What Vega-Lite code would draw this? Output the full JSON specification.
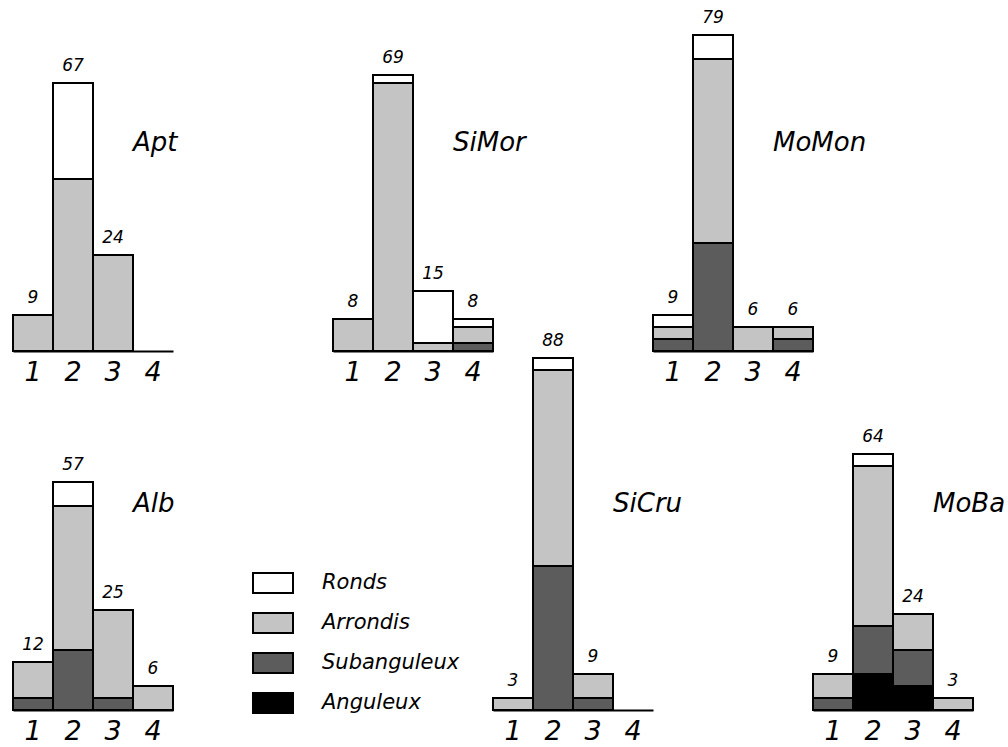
{
  "$schema": "https://vega.github.io/schema/vega-lite/v6.json",
  "background": "white",
  "padding": {"left": 12, "top": 0, "right": 0, "bottom": 0},
  "autosize": {"type": "pad"},
  "config": {
    "view": {"stroke": null},
    "axisX": {"title": null, "labelAngle": 0, "ticks": false, "grid": false, "domainColor": "black", "domainWidth": 2, "labelFont": "DejaVu Sans", "labelFontStyle": "italic", "labelFontSize": 27, "labelColor": "black", "labelPadding": 8},
    "text": {"font": "DejaVu Sans", "fontStyle": "italic", "color": "black"}
  },
  "datasets": {
    "d": [
      {"site": "Apt", "cat": "1", "cls": "Arrondis", "n": 9},
      {"site": "Apt", "cat": "2", "cls": "Arrondis", "n": 43},
      {"site": "Apt", "cat": "2", "cls": "Ronds", "n": 24},
      {"site": "Apt", "cat": "3", "cls": "Arrondis", "n": 24},
      {"site": "SiMor", "cat": "1", "cls": "Arrondis", "n": 8},
      {"site": "SiMor", "cat": "2", "cls": "Arrondis", "n": 67},
      {"site": "SiMor", "cat": "2", "cls": "Ronds", "n": 2},
      {"site": "SiMor", "cat": "3", "cls": "Arrondis", "n": 2},
      {"site": "SiMor", "cat": "3", "cls": "Ronds", "n": 13},
      {"site": "SiMor", "cat": "4", "cls": "Subanguleux", "n": 2},
      {"site": "SiMor", "cat": "4", "cls": "Arrondis", "n": 4},
      {"site": "SiMor", "cat": "4", "cls": "Ronds", "n": 2},
      {"site": "MoMon", "cat": "1", "cls": "Subanguleux", "n": 3},
      {"site": "MoMon", "cat": "1", "cls": "Arrondis", "n": 3},
      {"site": "MoMon", "cat": "1", "cls": "Ronds", "n": 3},
      {"site": "MoMon", "cat": "2", "cls": "Subanguleux", "n": 27},
      {"site": "MoMon", "cat": "2", "cls": "Arrondis", "n": 46},
      {"site": "MoMon", "cat": "2", "cls": "Ronds", "n": 6},
      {"site": "MoMon", "cat": "3", "cls": "Arrondis", "n": 6},
      {"site": "MoMon", "cat": "4", "cls": "Subanguleux", "n": 3},
      {"site": "MoMon", "cat": "4", "cls": "Arrondis", "n": 3},
      {"site": "Alb", "cat": "1", "cls": "Subanguleux", "n": 3},
      {"site": "Alb", "cat": "1", "cls": "Arrondis", "n": 9},
      {"site": "Alb", "cat": "2", "cls": "Subanguleux", "n": 15},
      {"site": "Alb", "cat": "2", "cls": "Arrondis", "n": 36},
      {"site": "Alb", "cat": "2", "cls": "Ronds", "n": 6},
      {"site": "Alb", "cat": "3", "cls": "Subanguleux", "n": 3},
      {"site": "Alb", "cat": "3", "cls": "Arrondis", "n": 22},
      {"site": "Alb", "cat": "4", "cls": "Arrondis", "n": 6},
      {"site": "SiCru", "cat": "1", "cls": "Arrondis", "n": 3},
      {"site": "SiCru", "cat": "2", "cls": "Subanguleux", "n": 36},
      {"site": "SiCru", "cat": "2", "cls": "Arrondis", "n": 49},
      {"site": "SiCru", "cat": "2", "cls": "Ronds", "n": 3},
      {"site": "SiCru", "cat": "3", "cls": "Subanguleux", "n": 3},
      {"site": "SiCru", "cat": "3", "cls": "Arrondis", "n": 6},
      {"site": "MoBa", "cat": "1", "cls": "Subanguleux", "n": 3},
      {"site": "MoBa", "cat": "1", "cls": "Arrondis", "n": 6},
      {"site": "MoBa", "cat": "2", "cls": "Anguleux", "n": 9},
      {"site": "MoBa", "cat": "2", "cls": "Subanguleux", "n": 12},
      {"site": "MoBa", "cat": "2", "cls": "Arrondis", "n": 40},
      {"site": "MoBa", "cat": "2", "cls": "Ronds", "n": 3},
      {"site": "MoBa", "cat": "3", "cls": "Anguleux", "n": 6},
      {"site": "MoBa", "cat": "3", "cls": "Subanguleux", "n": 9},
      {"site": "MoBa", "cat": "3", "cls": "Arrondis", "n": 9},
      {"site": "MoBa", "cat": "4", "cls": "Arrondis", "n": 3}
    ]
  },
  "bounds": "flush",
  "spacing": 0,
  "resolve": {"scale": {"color": "shared"}},
  "hconcat": [
    {
      "width": 160, "height": 710,
      "data": {"name": "d"},
      "resolve": {"scale": {"x": "independent", "y": "independent"}, "axis": {"x": "independent"}},
      "layer": [
        {
          "transform": [{"filter": "datum.site === 'Apt'"}],
          "layer": [
            {"transform": [{"calculate": "indexof(['Anguleux','Subanguleux','Arrondis','Ronds'], datum.cls)", "as": "o"}],
             "mark": {"type": "bar", "stroke": "black", "strokeWidth": 2},
             "encoding": {
               "x": {"field": "cat", "type": "ordinal", "scale": {"domain": ["1","2","3","4"], "paddingInner": 0, "paddingOuter": 0}, "axis": {"orient": "bottom", "offset": -359}},
               "y": {"field": "n", "type": "quantitative", "stack": "zero", "scale": {"domain": [-89.75, 87.75], "nice": false, "zero": false}, "axis": null},
               "color": {"field": "cls", "type": "nominal", "scale": {"domain": ["Ronds","Arrondis","Subanguleux","Anguleux"], "range": ["#ffffff","#c4c4c4","#5c5c5c","#000000"]},
                 "legend": {"title": null, "orient": "none", "legendX": 239, "legendY": 562, "direction": "vertical", "padding": 0, "rowPadding": 5, "symbolType": "M-1,-0.5H1V0.5H-1Z", "symbolSize": 1600, "symbolStrokeColor": "black", "symbolStrokeWidth": 2, "symbolOpacity": 1, "labelFont": "DejaVu Sans", "labelFontStyle": "italic", "labelFontSize": 21, "labelColor": "black", "labelOffset": 28}},
               "order": {"field": "o", "type": "quantitative"}
             }},
            {"mark": {"type": "text", "fontSize": 17, "baseline": "alphabetic", "dy": -12},
             "encoding": {
               "x": {"field": "cat", "type": "ordinal"},
               "y": {"aggregate": "sum", "field": "n", "type": "quantitative"},
               "text": {"aggregate": "sum", "field": "n", "type": "quantitative"}
             }},
            {"transform": [{"aggregate": [{"op": "count", "as": "c"}], "groupby": ["site"]}],
             "mark": {"type": "text", "fontSize": 26, "align": "left", "baseline": "alphabetic"},
             "encoding": {
               "x": {"datum": "4", "type": "ordinal", "bandPosition": 0},
               "y": {"datum": 50, "type": "quantitative"},
               "text": {"field": "site", "type": "nominal"}
             }}
          ]
        },
        {
          "transform": [{"filter": "datum.site === 'Alb'"}],
          "layer": [
            {"transform": [{"calculate": "indexof(['Anguleux','Subanguleux','Arrondis','Ronds'], datum.cls)", "as": "o"}],
             "mark": {"type": "bar", "stroke": "black", "strokeWidth": 2},
             "encoding": {
               "x": {"field": "cat", "type": "ordinal", "scale": {"domain": ["1","2","3","4"], "paddingInner": 0, "paddingOuter": 0}, "axis": {"orient": "bottom"}},
               "y": {"field": "n", "type": "quantitative", "stack": "zero", "scale": {"domain": [0, 177.5], "nice": false}, "axis": null},
               "color": {"field": "cls", "type": "nominal"},
               "order": {"field": "o", "type": "quantitative"}
             }},
            {"mark": {"type": "text", "fontSize": 17, "baseline": "alphabetic", "dy": -12},
             "encoding": {
               "x": {"field": "cat", "type": "ordinal"},
               "y": {"aggregate": "sum", "field": "n", "type": "quantitative"},
               "text": {"aggregate": "sum", "field": "n", "type": "quantitative"}
             }},
            {"transform": [{"aggregate": [{"op": "count", "as": "c"}], "groupby": ["site"]}],
             "mark": {"type": "text", "fontSize": 26, "align": "left", "baseline": "alphabetic"},
             "encoding": {
               "x": {"datum": "4", "type": "ordinal", "bandPosition": 0},
               "y": {"datum": 49.5, "type": "quantitative"},
               "text": {"field": "site", "type": "nominal"}
             }}
          ]
        }
      ]
    },
    {
      "width": 160, "height": 710,
      "data": {"values": []},
      "mark": "point",
      "encoding": {}
    },
    {
      "width": 160, "height": 710,
      "data": {"name": "d"},
      "transform": [{"filter": "datum.site === 'SiMor'"}],
      "layer": [
        {"transform": [{"calculate": "indexof(['Anguleux','Subanguleux','Arrondis','Ronds'], datum.cls)", "as": "o"}],
         "mark": {"type": "bar", "stroke": "black", "strokeWidth": 2},
         "encoding": {
           "x": {"field": "cat", "type": "ordinal", "scale": {"domain": ["1","2","3","4"], "paddingInner": 0, "paddingOuter": 0}, "axis": {"offset": -359}},
           "y": {"field": "n", "type": "quantitative", "stack": "zero", "scale": {"domain": [-89.75, 87.75], "nice": false, "zero": false}, "axis": null},
           "color": {"field": "cls", "type": "nominal"},
           "order": {"field": "o", "type": "quantitative"}
         }},
        {"mark": {"type": "text", "fontSize": 17, "baseline": "alphabetic", "dy": -12},
         "encoding": {
           "x": {"field": "cat", "type": "ordinal"},
           "y": {"aggregate": "sum", "field": "n", "type": "quantitative"},
           "text": {"aggregate": "sum", "field": "n", "type": "quantitative"}
         }},
        {"transform": [{"aggregate": [{"op": "count", "as": "c"}], "groupby": ["site"]}],
         "mark": {"type": "text", "fontSize": 26, "align": "left", "baseline": "alphabetic"},
         "encoding": {
           "x": {"datum": "4", "type": "ordinal", "bandPosition": 0},
           "y": {"datum": 50, "type": "quantitative"},
           "text": {"field": "site", "type": "nominal"}
         }}
      ]
    },
    {
      "width": 160, "height": 710,
      "data": {"name": "d"},
      "transform": [{"filter": "datum.site === 'SiCru'"}],
      "layer": [
        {"transform": [{"calculate": "indexof(['Anguleux','Subanguleux','Arrondis','Ronds'], datum.cls)", "as": "o"}],
         "mark": {"type": "bar", "stroke": "black", "strokeWidth": 2},
         "encoding": {
           "x": {"field": "cat", "type": "ordinal", "scale": {"domain": ["1","2","3","4"], "paddingInner": 0, "paddingOuter": 0}},
           "y": {"field": "n", "type": "quantitative", "stack": "zero", "scale": {"domain": [0, 177.5], "nice": false}, "axis": null},
           "color": {"field": "cls", "type": "nominal"},
           "order": {"field": "o", "type": "quantitative"}
         }},
        {"mark": {"type": "text", "fontSize": 17, "baseline": "alphabetic", "dy": -12},
         "encoding": {
           "x": {"field": "cat", "type": "ordinal"},
           "y": {"aggregate": "sum", "field": "n", "type": "quantitative"},
           "text": {"aggregate": "sum", "field": "n", "type": "quantitative"}
         }},
        {"transform": [{"aggregate": [{"op": "count", "as": "c"}], "groupby": ["site"]}],
         "mark": {"type": "text", "fontSize": 26, "align": "left", "baseline": "alphabetic"},
         "encoding": {
           "x": {"datum": "4", "type": "ordinal", "bandPosition": 0},
           "y": {"datum": 49.5, "type": "quantitative"},
           "text": {"field": "site", "type": "nominal"}
         }}
      ]
    },
    {
      "width": 160, "height": 710,
      "data": {"name": "d"},
      "transform": [{"filter": "datum.site === 'MoMon'"}],
      "layer": [
        {"transform": [{"calculate": "indexof(['Anguleux','Subanguleux','Arrondis','Ronds'], datum.cls)", "as": "o"}],
         "mark": {"type": "bar", "stroke": "black", "strokeWidth": 2},
         "encoding": {
           "x": {"field": "cat", "type": "ordinal", "scale": {"domain": ["1","2","3","4"], "paddingInner": 0, "paddingOuter": 0}, "axis": {"offset": -359}},
           "y": {"field": "n", "type": "quantitative", "stack": "zero", "scale": {"domain": [-89.75, 87.75], "nice": false, "zero": false}, "axis": null},
           "color": {"field": "cls", "type": "nominal"},
           "order": {"field": "o", "type": "quantitative"}
         }},
        {"mark": {"type": "text", "fontSize": 17, "baseline": "alphabetic", "dy": -12},
         "encoding": {
           "x": {"field": "cat", "type": "ordinal"},
           "y": {"aggregate": "sum", "field": "n", "type": "quantitative"},
           "text": {"aggregate": "sum", "field": "n", "type": "quantitative"}
         }},
        {"transform": [{"aggregate": [{"op": "count", "as": "c"}], "groupby": ["site"]}],
         "mark": {"type": "text", "fontSize": 26, "align": "left", "baseline": "alphabetic"},
         "encoding": {
           "x": {"datum": "4", "type": "ordinal", "bandPosition": 0},
           "y": {"datum": 50, "type": "quantitative"},
           "text": {"field": "site", "type": "nominal"}
         }}
      ]
    },
    {
      "width": 160, "height": 710,
      "data": {"name": "d"},
      "transform": [{"filter": "datum.site === 'MoBa'"}],
      "layer": [
        {"transform": [{"calculate": "indexof(['Anguleux','Subanguleux','Arrondis','Ronds'], datum.cls)", "as": "o"}],
         "mark": {"type": "bar", "stroke": "black", "strokeWidth": 2},
         "encoding": {
           "x": {"field": "cat", "type": "ordinal", "scale": {"domain": ["1","2","3","4"], "paddingInner": 0, "paddingOuter": 0}},
           "y": {"field": "n", "type": "quantitative", "stack": "zero", "scale": {"domain": [0, 177.5], "nice": false}, "axis": null},
           "color": {"field": "cls", "type": "nominal"},
           "order": {"field": "o", "type": "quantitative"}
         }},
        {"mark": {"type": "text", "fontSize": 17, "baseline": "alphabetic", "dy": -12},
         "encoding": {
           "x": {"field": "cat", "type": "ordinal"},
           "y": {"aggregate": "sum", "field": "n", "type": "quantitative"},
           "text": {"aggregate": "sum", "field": "n", "type": "quantitative"}
         }},
        {"transform": [{"aggregate": [{"op": "count", "as": "c"}], "groupby": ["site"]}],
         "mark": {"type": "text", "fontSize": 26, "align": "left", "baseline": "alphabetic"},
         "encoding": {
           "x": {"datum": "4", "type": "ordinal", "bandPosition": 0},
           "y": {"datum": 49.5, "type": "quantitative"},
           "text": {"field": "site", "type": "nominal"}
         }}
      ]
    }
  ]
}
